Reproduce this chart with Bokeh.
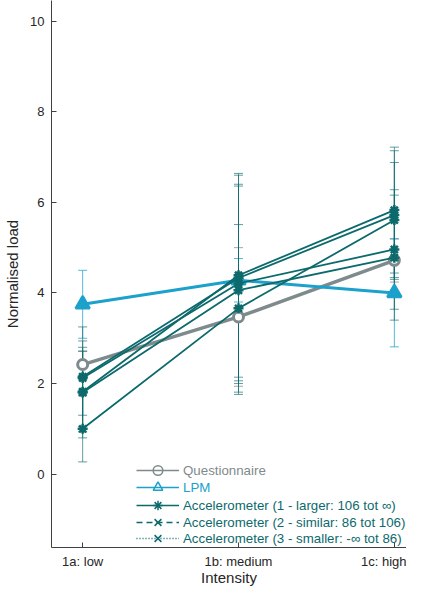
import numpy as np
from bokeh.plotting import figure
from bokeh.models import (ColumnDataSource, Whisker, TeeHead, Legend, LegendItem,
                          FixedTicker, Range1d)
from bokeh.embed import file_html
from bokeh.resources import INLINE

# ---------------- data ----------------
x = [1, 2, 3]
tick_labels = ["1a: low", "1b: medium", "1c: high"]

q_mean = [2.42, 3.47, 4.72]
q_lo = [2.12, 1.94, 4.24]
q_hi = [2.72, 5.00, 5.20]

lpm_mean = [3.75, 4.28, 4.00]
lpm_lo = [3.00, 3.80, 2.81]
lpm_hi = [4.50, 4.76, 5.19]

acc_a_mean = [1.82, 4.39, 5.83]
acc_a_lo = [0.93, 2.14, 4.44]
acc_a_hi = [2.71, 6.64, 7.22]

acc_b_mean = [2.15, 4.33, 5.72]
acc_b_lo = [1.05, 2.06, 4.30]
acc_b_hi = [3.25, 6.60, 7.14]

acc_c_mean = [2.12, 4.21, 4.96]
acc_c_lo = [1.30, 2.00, 3.64]
acc_c_hi = [2.94, 6.40, 6.28]

acc_d_mean = [1.80, 4.06, 4.78]
acc_d_lo = [0.80, 1.76, 3.40]
acc_d_hi = [2.80, 6.36, 6.16]

acc_e_mean = [1.00, 3.66, 5.61]
acc_e_lo = [0.27, 1.81, 4.34]
acc_e_hi = [1.73, 5.51, 6.88]

legend_labels = ["Questionnaire", "LPM",
                 "Accelerometer (1 - larger: 106 tot \u221e)",
                 "Accelerometer (2 - similar: 86 tot 106)",
                 "Accelerometer (3 - smaller: -\u221e tot 86)"]

# ---------------- style ----------------
FONT = "Liberation Sans"
C_Q = "#7f8a8c"
C_LPM = "#1ba1cb"
C_ACC = "#0c6a6d"
AXC = "#404040"
TXT = "#262626"

p = figure(width=406, height=588, output_backend="svg", toolbar_location=None,
           x_range=Range1d(0.8, 3.078), y_range=Range1d(-1.62, 10.457),
           min_border_left=51, min_border_right=0, min_border_top=0,
           min_border_bottom=37)
p.outline_line_color = None
p.grid.visible = False
p.background_fill_color = "white"

for ax in (p.xaxis[0], p.yaxis[0]):
    ax.axis_line_color = AXC
    ax.major_tick_line_color = AXC
    ax.major_tick_in = 5
    ax.major_tick_out = 0
    ax.minor_tick_line_color = None
    ax.major_label_text_font = FONT
    ax.major_label_text_font_size = "13px"
    ax.major_label_text_color = TXT
    ax.axis_label_text_font = FONT
    ax.axis_label_text_font_size = "15px"
    ax.axis_label_text_font_style = "normal"
    ax.axis_label_text_color = TXT

p.xaxis.ticker = FixedTicker(ticks=x)
p.xaxis.major_label_overrides = dict(zip(x, tick_labels))
p.xaxis.axis_label = "Intensity"
p.xaxis.major_label_standoff = 6
p.xaxis.axis_label_standoff = -3

p.yaxis.ticker = FixedTicker(ticks=[0, 2, 4, 6, 8, 10])
p.yaxis.axis_label = "Normalised load"
p.yaxis.major_label_standoff = 7
p.yaxis.axis_label_standoff = 6


def errbars(lo, hi, color, alpha=0.75):
    src = ColumnDataSource(dict(x=x, lo=lo, hi=hi))
    w = Whisker(source=src, base="x", lower="lo", upper="hi",
                line_color=color, line_alpha=alpha, line_width=1,
                upper_head=TeeHead(size=9, line_color=color, line_alpha=alpha, line_width=1),
                lower_head=TeeHead(size=9, line_color=color, line_alpha=alpha, line_width=1))
    p.add_layout(w)


# Questionnaire
errbars(q_lo, q_hi, C_Q)
p.line(x, q_mean, line_color=C_Q, line_width=3.4)
p.scatter(x, q_mean, marker="circle", size=10, line_color=C_Q, line_width=3,
          fill_color="white")

# LPM
errbars(lpm_lo, lpm_hi, C_LPM)
p.line(x, lpm_mean, line_color=C_LPM, line_width=3)
p.scatter(x, lpm_mean, marker="triangle", size=14, line_color=C_LPM, line_width=2.5,
          fill_color=C_LPM)

# Accelerometer series
acc_series = [(acc_a_mean, acc_a_lo, acc_a_hi), (acc_b_mean, acc_b_lo, acc_b_hi),
              (acc_c_mean, acc_c_lo, acc_c_hi), (acc_d_mean, acc_d_lo, acc_d_hi),
              (acc_e_mean, acc_e_lo, acc_e_hi)]
for m, lo, hi in acc_series:
    errbars(lo, hi, C_ACC, alpha=0.65)
for m, lo, hi in acc_series:
    p.line(x, m, line_color=C_ACC, line_width=1.8)
    p.scatter(x, m, marker="asterisk", size=10, line_color=C_ACC, line_width=2.5)

# ---------------- legend (one entry per legend for per-entry text colour) ----------------
nan = [np.nan]
leg_specs = [
    (legend_labels[0], C_Q, "solid", "circle", 65),
    (legend_labels[1], C_LPM, "solid", "triangle", 48),
    (legend_labels[2], C_ACC, "solid", "asterisk", 30),
    (legend_labels[3], C_ACC, "6 4", "x", 13),
    (legend_labels[4], C_ACC, "1 2", "x", -3),
]
for label, col, dash, mk, yoff in leg_specs:
    r1 = p.line(nan, nan, line_color=col, line_width=1.5, line_dash=dash)
    r2 = p.scatter(nan, nan, marker=mk, line_color=col, line_width=1.5,
                   fill_color=None)
    leg = Legend(items=[LegendItem(label=label, renderers=[r1, r2])],
                 location=(85, yoff), label_text_color=col,
                 label_text_font=FONT, label_text_font_size="13.3px",
                 glyph_width=43, glyph_height=24, label_height=24,
                 label_standoff=4, padding=0, margin=0, spacing=0,
                 border_line_color=None, background_fill_alpha=0)
    p.add_layout(leg, "center")

open("out.html", "w").write(file_html(p, INLINE))
